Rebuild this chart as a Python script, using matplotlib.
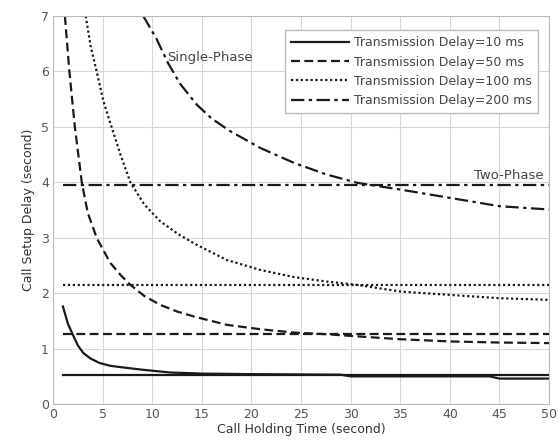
import matplotlib
matplotlib.use("Agg")
import matplotlib.pyplot as plt

# Single-phase curves
x10 = [1.0, 1.5, 2.0, 2.5, 3.06, 3.8, 4.7, 5.8, 7.1, 9.0, 11.8, 15, 20, 29, 30, 44, 45, 50]
y10 = [1.76, 1.45, 1.25, 1.06, 0.92, 0.82, 0.74, 0.69, 0.66, 0.62, 0.57, 0.55, 0.54, 0.53, 0.50, 0.50, 0.46, 0.46]

x50 = [1.2, 1.65, 2.2, 2.9, 3.5, 4.4, 5.76, 6.8, 7.8, 9.2, 10.8, 12.5, 14.2, 17.5, 20.9, 24.3, 27.6, 30, 35, 40, 45, 50]
y50 = [7.0, 6.0, 5.0, 4.0, 3.45, 3.0, 2.55, 2.33, 2.15, 1.95, 1.79, 1.67, 1.58, 1.43, 1.35, 1.29, 1.26, 1.23, 1.17, 1.13, 1.11, 1.10]

x100 = [3.3, 3.8, 4.4, 5.1, 5.9, 6.8, 7.8, 9.2, 10.8, 12.5, 14.2, 17.5, 20.9, 24.3, 27.6, 30.7, 35, 40, 45, 50]
y100 = [7.0, 6.45, 6.0, 5.45, 5.0, 4.5, 4.0, 3.6, 3.3, 3.08, 2.9, 2.6, 2.42, 2.29, 2.21, 2.15, 2.03, 1.97, 1.91, 1.88]

x200 = [9.1, 10.4, 11.6, 12.8, 14.5, 16.0, 17.8, 20.9, 24.3, 27.6, 30.7, 35, 40, 45, 50]
y200 = [7.0, 6.6, 6.15, 5.78, 5.4, 5.15, 4.93, 4.62, 4.35, 4.14, 3.99, 3.87, 3.72, 3.57, 3.51]

# Two-phase constant delays
two_x = [1, 50]
two_levels = [0.53, 1.26, 2.15, 3.96]

labels = ["Transmission Delay=10 ms", "Transmission Delay=50 ms",
          "Transmission Delay=100 ms", "Transmission Delay=200 ms"]
styles = ["-", (0, (4, 2)), (0, (1, 1.2)), (0, (6, 2, 1.5, 2))]

fig = plt.figure(figsize=(5.58, 4.46), dpi=100)
ax = fig.add_axes([0.095, 0.094, 0.889, 0.870])

lw = 1.6
col = "#1a1a1a"
curves = [(x10, y10), (x50, y50), (x100, y100), (x200, y200)]
for (xs, ys), ls, lab, lev in zip(curves, styles, labels, two_levels):
    ax.plot(xs, ys, linestyle=ls, color=col, lw=lw, label=lab)
    ax.plot(two_x, [lev, lev], linestyle=ls, color=col, lw=lw)

ax.set_xlim(0, 50)
ax.set_ylim(0, 7)
ax.set_xticks(range(0, 51, 5))
ax.set_yticks(range(0, 8))
ax.grid(True, color="#d8d8d8", lw=0.8)
for s in ax.spines.values():
    s.set_color("#bbbbbb")
ax.tick_params(colors="#555555", labelsize=9, length=0, pad=3)
ax.set_xlabel("Call Holding Time (second)", fontsize=9, color="#333333", labelpad=1)
ax.set_ylabel("Call Setup Delay (second)", fontsize=9, color="#333333", labelpad=4)

ax.text(11.5, 6.26, "Single-Phase", fontsize=9.5, color="#444444", va="center", ha="left")
ax.text(49.5, 4.12, "Two-Phase", fontsize=9.5, color="#444444", va="center", ha="right")

leg = ax.legend(loc="upper right", bbox_to_anchor=(0.99, 0.98), fontsize=9,
                handlelength=4.6, handletextpad=0.4, labelspacing=0.5, borderpad=0.5,
                fancybox=False, framealpha=1, edgecolor="#bbbbbb")
for t in leg.get_texts():
    t.set_color("#444444")

fig.savefig("out.png", dpi=100)
